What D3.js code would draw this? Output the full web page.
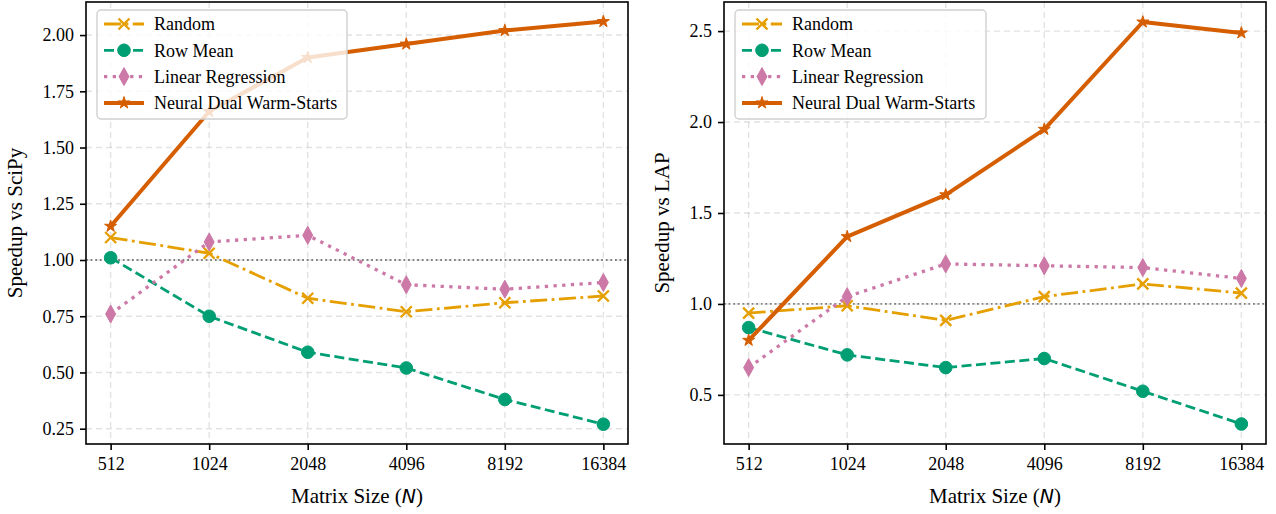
<!DOCTYPE html>
<html>
<head>
<meta charset="utf-8">
<script src="https://cdn.jsdelivr.net/npm/d3@7"></script>
<style>
  body { margin: 0; background: #fff; }
  svg { display: block; }
  text { font-family: "Liberation Serif", "DejaVu Serif", serif; }
</style>
</head>
<body>
<svg id="chart" width="1276" height="514"></svg>
<script>
// data
var sizes = [512, 1024, 2048, 4096, 8192, 16384];
var seriesNames = ["Random", "Row Mean", "Linear Regression", "Neural Dual Warm-Starts"];

var scipyRandom = [1.10, 1.03, 0.83, 0.77, 0.81, 0.84];
var scipyRowMean = [1.01, 0.75, 0.59, 0.52, 0.38, 0.27];
var scipyLinReg = [0.76, 1.08, 1.11, 0.89, 0.87, 0.90];
var scipyNeural = [1.15, 1.66, 1.90, 1.96, 2.02, 2.06];

var lapRandom = [0.95, 0.99, 0.91, 1.04, 1.11, 1.06];
var lapRowMean = [0.87, 0.72, 0.65, 0.70, 0.52, 0.34];
var lapLinReg = [0.65, 1.04, 1.22, 1.21, 1.20, 1.14];
var lapNeural = [0.80, 1.37, 1.60, 1.96, 2.55, 2.49];

var scipyTicks = [0.25, 0.50, 0.75, 1.00, 1.25, 1.50, 1.75, 2.00];
var lapTicks = [0.5, 1.0, 1.5, 2.0, 2.5];

// styles per series
var styles = [
  { color: "#E69F00", width: 2.8, dash: "17,4.5,2.8,4.5", marker: "x" },
  { color: "#009E73", width: 2.8, dash: "10,4.5", marker: "circle" },
  { color: "#CC79A7", width: 3.3, dash: "3.3,5.4", marker: "diamond" },
  { color: "#D55E00", width: 4, dash: null, marker: "star" }
];

var svg = d3.select("#chart");

function markerPath(type) {
  if (type === "x") return "M-5.5,-5.5L5.5,5.5M-5.5,5.5L5.5,-5.5";
  if (type === "diamond") return "M0,-9L5,0L0,9L-5,0Z";
  if (type === "star") return d3.symbol(d3.symbolStar, 45)();
  return d3.symbol(d3.symbolCircle, 125)();
}

function drawMarker(g, type, color, x, y) {
  var p = g.append("path")
    .attr("transform", "translate(" + x + "," + y + ")")
    .attr("d", markerPath(type));
  if (type === "x") {
    p.attr("fill", "none").attr("stroke", color).attr("stroke-width", 2.4);
  } else {
    p.attr("fill", color).attr("stroke", color).attr("stroke-width", 1);
  }
}

function panel(opts) {
  var left = opts.left, top = 2, width = 542, height = 442;
  var g = svg.append("g").attr("transform", "translate(" + left + "," + top + ")");

  var x = d3.scaleLog().base(2)
    .domain([512 / Math.pow(2, 0.25), 16384 * Math.pow(2, 0.25)])
    .range([0, width]);
  var y = d3.scaleLinear().domain(opts.ydomain).range([height, 0]);

  // grid
  g.append("g").selectAll("line").data(sizes).enter().append("line")
    .attr("x1", function(d) { return x(d); }).attr("x2", function(d) { return x(d); })
    .attr("y1", 0).attr("y2", height)
    .attr("stroke", "#b0b0b0").attr("stroke-opacity", 0.35)
    .attr("stroke-width", 1.4).attr("stroke-dasharray", "6,4");
  g.append("g").selectAll("line").data(opts.ticks).enter().append("line")
    .attr("y1", function(d) { return y(d); }).attr("y2", function(d) { return y(d); })
    .attr("x1", 0).attr("x2", width)
    .attr("stroke", "#b0b0b0").attr("stroke-opacity", 0.35)
    .attr("stroke-width", 1.4).attr("stroke-dasharray", "6,4");

  // reference line at 1
  g.append("line")
    .attr("x1", 0).attr("x2", width)
    .attr("y1", y(1)).attr("y2", y(1))
    .attr("stroke", "#808080").attr("stroke-width", 1.8)
    .attr("stroke-dasharray", "1.8,2.8");

  var line = d3.line()
    .x(function(d, i) { return x(sizes[i]); })
    .y(function(d) { return y(d); });

  opts.series.forEach(function(vals, si) {
    var s = styles[si];
    g.append("path").datum(vals)
      .attr("d", line)
      .attr("fill", "none")
      .attr("stroke", s.color)
      .attr("stroke-width", s.width)
      .attr("stroke-dasharray", s.dash)
      .attr("stroke-linejoin", "round");
    vals.forEach(function(v, i) {
      drawMarker(g, s.marker, s.color, x(sizes[i]), y(v));
    });
  });

  // axes
  var xAxis = d3.axisBottom(x).tickValues(sizes).tickFormat(d3.format("d"))
    .tickSize(6).tickPadding(7);
  var gx = g.append("g").attr("transform", "translate(0," + height + ")").call(xAxis);
  gx.select(".domain").remove();
  gx.selectAll("line").attr("stroke", "#000").attr("stroke-width", 1.6);
  gx.selectAll("text").attr("font-size", 18).attr("fill", "#000")
    .style("font-family", "Liberation Serif, serif");

  var yAxis = d3.axisLeft(y).tickValues(opts.ticks).tickFormat(d3.format(opts.fmt))
    .tickSize(6).tickPadding(6);
  var gy = g.append("g").call(yAxis);
  gy.select(".domain").remove();
  gy.selectAll("line").attr("stroke", "#000").attr("stroke-width", 1.6);
  gy.selectAll("text").attr("font-size", 18).attr("fill", "#000")
    .style("font-family", "Liberation Serif, serif");

  g.append("rect").attr("width", width).attr("height", height)
    .attr("fill", "none").attr("stroke", "#000").attr("stroke-width", 1.6);

  // axis labels
  var xl = g.append("text")
    .attr("x", width / 2).attr("y", height + 59)
    .attr("text-anchor", "middle").attr("font-size", 21).attr("fill", "#000");
  xl.append("tspan").text("Matrix Size (");
  xl.append("tspan").text("N").style("font-family", "DejaVu Sans, sans-serif")
    .attr("font-style", "italic").attr("font-size", 19);
  xl.append("tspan").text(")");

  g.append("text")
    .attr("transform", "translate(" + opts.ylabelX + "," + height / 2 + ") rotate(-90)")
    .attr("text-anchor", "middle").attr("font-size", 21).attr("fill", "#000")
    .text(opts.ylabel);

  // legend
  var lg = g.append("g").attr("transform", "translate(11,8)");
  lg.append("rect").attr("width", opts.legendW).attr("height", 109)
    .attr("rx", 4).attr("fill", "#fff").attr("fill-opacity", 0.8)
    .attr("stroke", "#d0d0d0").attr("stroke-width", 1.4);
  seriesNames.forEach(function(name, si) {
    var s = styles[si];
    var ry = 14 + si * 26.3;
    lg.append("line").attr("x1", 7).attr("x2", 47).attr("y1", ry).attr("y2", ry)
      .attr("stroke", s.color).attr("stroke-width", s.width)
      .attr("stroke-dasharray", s.dash);
    drawMarker(lg, s.marker, s.color, 27, ry);
    lg.append("text").attr("x", 57).attr("y", ry).attr("dy", "0.35em")
      .attr("font-size", 18).attr("fill", "#000").text(name);
  });
}

panel({
  left: 86,
  ydomain: [0.182, 2.147],
  ticks: scipyTicks,
  fmt: ".2f",
  ylabel: "Speedup vs SciPy",
  ylabelX: -64,
  legendW: 250,
  series: [scipyRandom, scipyRowMean, scipyLinReg, scipyNeural]
});

panel({
  left: 724,
  ydomain: [0.23, 2.66],
  ticks: lapTicks,
  fmt: ".1f",
  ylabel: "Speedup vs LAP",
  ylabelX: -55,
  legendW: 251,
  series: [lapRandom, lapRowMean, lapLinReg, lapNeural]
});
</script>
</body>
</html>
